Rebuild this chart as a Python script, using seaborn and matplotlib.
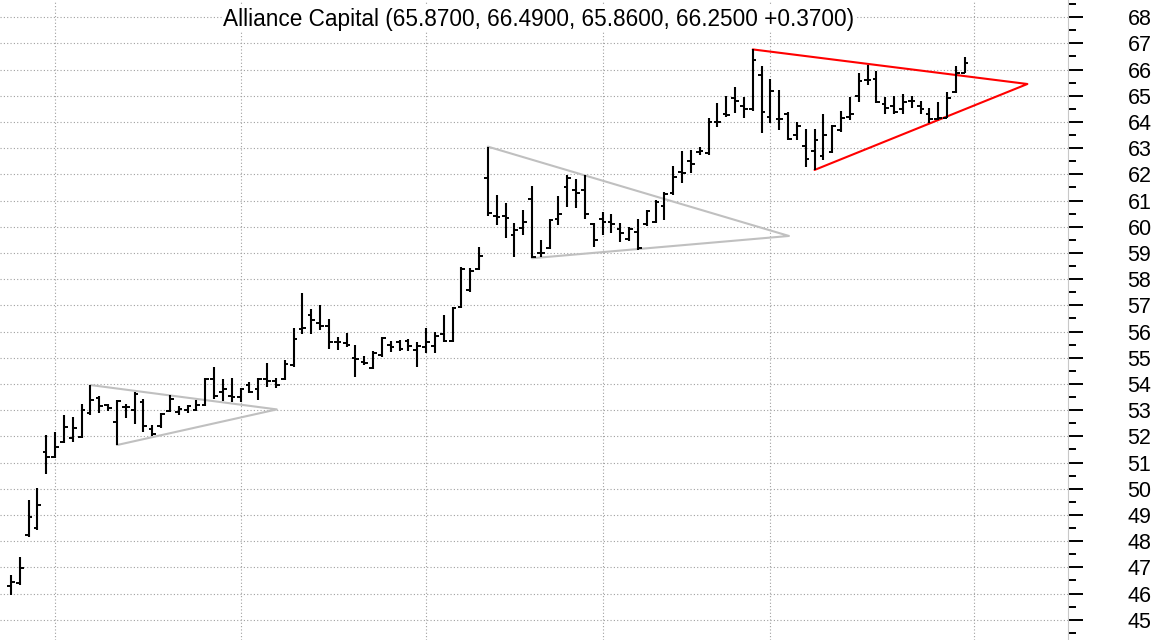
import matplotlib
matplotlib.use("Agg")
import matplotlib.pyplot as plt
import numpy as np
import pandas as pd
import seaborn as sns
from matplotlib.ticker import MultipleLocator

# daily bars (one entry per trading day)
opens = [46.30, 46.39, 48.24, 48.49, 51.42, 51.21, 51.80, 51.93, 51.97, 52.88,
         53.45, 53.20, 52.56, 53.11, 53.00, 53.30, 52.30, 52.40, 52.98, 52.95,
         53.00, 53.00, 53.20, 54.20, 53.70, 53.55, 53.50, 53.95, 53.80, 54.20,
         54.10, 54.20, 54.73, 56.10, 56.63, 56.32, 56.20, 55.60, 55.55, 55.00,
         54.85, 54.62, 55.10, 55.50, 55.60, 55.65, 55.30, 55.40, 55.45, 55.90,
         55.65, 56.95, 57.60, 58.40, 61.85, 60.40, 60.40, 59.70, 59.95, 61.05,
         59.00, 59.20, 60.30, 61.50, 61.40, 61.40, 60.10, 60.30, 60.20, 59.90,
         59.55, 59.80, 60.10, 60.20, 60.80, 61.30, 62.10, 62.50, 62.85, 62.80,
         64.00, 64.30, 64.90, 64.60, 64.50, 65.80, 64.20, 64.10, 64.30, 63.50,
         63.10, 62.90, 62.70, 62.85, 63.70, 64.20, 65.00, 65.60, 65.65, 64.70,
         64.60, 64.50, 64.80, 64.60, 64.30, 64.10, 64.15, 65.15, 65.87]
highs = [46.70, 47.41, 49.57, 50.02, 52.05, 52.18, 52.82, 52.75, 53.23, 53.96,
         53.55, 53.23, 53.39, 53.23, 53.71, 53.43, 52.44, 52.88, 53.58, 53.16,
         53.20, 53.39, 54.22, 54.66, 54.18, 54.22, 53.86, 54.09, 54.22, 54.79,
         54.22, 54.92, 56.13, 57.48, 56.85, 57.02, 56.47, 55.81, 55.96, 55.49,
         55.07, 55.27, 55.81, 55.65, 55.68, 55.71, 55.61, 56.13, 56.00, 56.63,
         56.93, 58.48, 58.42, 59.22, 63.06, 61.21, 60.90, 60.13, 60.64, 61.56,
         59.50, 60.28, 61.18, 61.98, 61.81, 61.98, 60.15, 60.58, 60.49, 60.15,
         59.98, 60.28, 60.64, 61.02, 61.34, 62.32, 62.90, 62.95, 63.03, 64.14,
         64.71, 64.99, 65.35, 64.94, 66.77, 66.14, 65.63, 65.22, 64.39, 64.01,
         63.72, 63.72, 64.31, 63.89, 64.43, 64.94, 65.86, 66.18, 65.96, 64.94,
         64.99, 65.07, 64.99, 64.81, 64.52, 64.78, 65.16, 66.14, 66.49]
lows = [45.95, 46.33, 48.15, 48.43, 50.55, 51.19, 51.74, 51.80, 51.93, 52.82,
        52.88, 52.97, 51.67, 52.69, 52.46, 52.18, 52.02, 52.31, 52.94, 52.82,
        52.88, 52.98, 53.16, 53.41, 53.36, 53.33, 53.33, 53.64, 53.39, 53.87,
        53.84, 54.15, 54.66, 55.91, 55.91, 56.06, 55.35, 55.30, 55.40, 54.28,
        54.73, 54.57, 55.02, 55.23, 55.26, 55.27, 54.64, 55.17, 55.19, 55.61,
        55.61, 56.89, 57.52, 58.35, 60.41, 60.07, 59.56, 58.86, 59.69, 58.80,
        58.86, 59.14, 60.07, 60.77, 60.71, 60.28, 59.22, 59.69, 59.78, 59.43,
        59.47, 59.11, 60.03, 60.16, 60.26, 61.21, 61.68, 62.04, 62.74, 62.74,
        63.80, 64.18, 64.36, 64.14, 64.43, 63.59, 63.97, 63.69, 63.31, 63.31,
        62.29, 62.17, 62.55, 62.81, 63.63, 64.08, 64.78, 65.41, 64.71, 64.31,
        64.31, 64.31, 64.52, 64.31, 63.97, 64.08, 64.14, 65.10, 65.86]
closes = [46.43, 46.99, 48.94, 49.38, 51.23, 51.61, 52.37, 52.31, 53.01, 53.39,
          53.15, 53.10, 53.35, 53.11, 53.60, 52.40, 52.10, 52.85, 53.42, 53.05,
          53.15, 53.20, 54.20, 53.55, 53.80, 53.50, 53.80, 53.70, 54.20, 54.10,
          53.95, 54.75, 55.71, 56.15, 56.46, 56.20, 55.61, 55.60, 55.50, 54.94,
          54.80, 55.20, 55.75, 55.40, 55.35, 55.45, 55.45, 55.60, 55.85, 55.65,
          56.90, 58.40, 58.30, 58.90, 60.51, 60.36, 60.35, 59.88, 60.20, 58.85,
          59.00, 60.25, 60.50, 61.85, 61.30, 60.50, 59.50, 60.20, 60.10, 59.75,
          59.90, 59.20, 60.60, 60.95, 61.25, 61.89, 62.04, 62.40, 62.90, 64.00,
          64.00, 64.25, 64.80, 64.50, 66.35, 64.39, 65.20, 64.10, 63.35, 63.85,
          62.60, 63.30, 63.50, 63.85, 64.15, 64.30, 65.55, 65.60, 64.75, 64.55,
          64.40, 64.75, 64.80, 64.50, 64.10, 64.15, 64.90, 65.88, 66.25]

# first trading day of each month (vertical grid)
month_starts = [5, 26, 47, 67, 86, 109]

# triangle patterns: drawn from a bar high, to an apex, back to a bar low
tri_names = ['pennant_1', 'pennant_2', 'pennant_3']
tri_top_bar = [9, 54, 84]
tri_bottom_bar = [12, 59, 91]
tri_apex_bar = [30.1, 88.1, 115.1]
tri_apex_price = [53.03, 59.65, 65.45]
tri_colors = ['#c0c0c0', '#c0c0c0', '#ff0000']

title = 'Alliance Capital (65.8700, 66.4900, 65.8600, 66.2500 +0.3700)'

sns.set_theme(style='white')
plt.rcParams['font.family'] = ['Liberation Sans', 'DejaVu Sans']

bars = pd.DataFrame({'day': np.arange(len(opens)), 'open': opens, 'high': highs,
                     'low': lows, 'close': closes})

rows = []
for name, tb, bb, ab, ap in zip(tri_names, tri_top_bar, tri_bottom_bar, tri_apex_bar, tri_apex_price):
    rows.append((name, tb, highs[tb]))
    rows.append((name, ab, ap))
    rows.append((name, bb, lows[bb]))
tri = pd.DataFrame(rows, columns=['name', 'x', 'y'])

fig = plt.figure(figsize=(11.63, 6.4), dpi=100)
ax = fig.add_axes([0, 0, 1068 / 1163, 1])
ax.set_axisbelow(True)

sns.lineplot(data=tri, x='x', y='y', hue='name', palette=dict(zip(tri_names, tri_colors)),
             sort=False, estimator=None, legend=False, lw=1.5, ax=ax, zorder=2)

tick = 0.42
ax.vlines(bars.day, bars.low, bars.high, color='black', lw=1.5, zorder=3)
ax.hlines(bars.open, bars.day - tick, bars.day, color='black', lw=1.4, zorder=3)
ax.hlines(bars.close, bars.day, bars.day + tick, color='black', lw=1.4, zorder=3)

ax.set_xlim(-1.246, 119.7)
ax.set_ylim(44.229, 68.656)
ax.set_xticks(month_starts)
ax.yaxis.tick_right()
ax.yaxis.set_major_locator(MultipleLocator(1))
ax.yaxis.set_minor_locator(MultipleLocator(0.5))
ax.grid(True, which='major', axis='both', linestyle=(0, (1, 2)), color='#a0a0a0', lw=0.8)
ax.tick_params(axis='x', length=0, labelbottom=False)
ax.tick_params(axis='y', which='major', length=10.8, width=1.4, color='black',
               pad=32, labelsize=15.5, labelcolor='black')
ax.tick_params(axis='y', which='minor', length=5.8, width=1.4, color='black')
ax.set_xlabel('')
ax.set_ylabel('')
for side in ['left', 'top', 'bottom']:
    ax.spines[side].set_visible(False)
ax.spines['right'].set_color('#c8c8c8')
ax.spines['right'].set_linewidth(0.8)

ax.text(0.5047, 0.970, title, transform=ax.transAxes, ha='center', va='center',
        fontsize=16.3, color='black', zorder=4,
        bbox=dict(facecolor='white', edgecolor='none', pad=1))

fig.savefig('out.png', dpi=100)
